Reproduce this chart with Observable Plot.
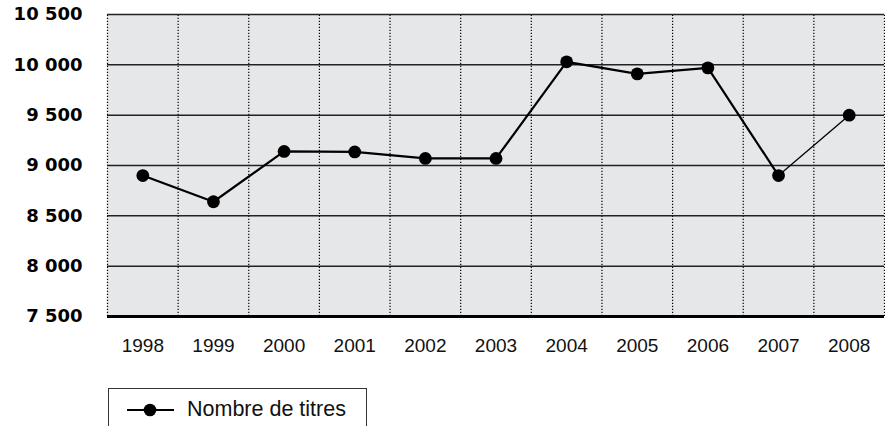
<!DOCTYPE html>
<html>
<head>
<meta charset="utf-8">
<script src="https://cdn.jsdelivr.net/npm/d3@7"></script>
<script src="https://cdn.jsdelivr.net/npm/@observablehq/plot@0.6"></script>
<style>
  html, body { margin: 0; padding: 0; background: #fff; }
  body { width: 885px; height: 426px; position: relative; overflow: hidden; font-family: "Liberation Sans", Arial, sans-serif; }
  #legend { position: absolute; left: 108px; top: 388px; width: 259px; height: 60px; border: 1.5px solid #333; box-sizing: border-box; background: #fff; }
  #legend svg { position: absolute; left: 17px; top: 13px; }
  #legend span { position: absolute; left: 78px; top: 8px; font-size: 21.5px; color: #111; white-space: nowrap; }
  g[aria-label="y-axis tick label"] { font-family: "DejaVu Sans", sans-serif !important; font-weight: bold !important; font-size: 18px !important; }
  g[aria-label="x-axis tick label"] { font-family: "Liberation Sans", Arial, sans-serif !important; font-size: 19px !important; }
</style>
</head>
<body>
<div id="chart"></div>
<div id="legend"><svg width="50" height="16"><line x1="1" y1="8" x2="48" y2="8" stroke="#000" stroke-width="2"/><circle cx="24" cy="8" r="6.3" fill="#000"/></svg><span>Nombre de titres</span></div>
<script>
const years = [1998, 1999, 2000, 2001, 2002, 2003, 2004, 2005, 2006, 2007, 2008];
const titres = [8900, 8640, 9140, 9135, 9070, 9070, 10030, 9910, 9970, 8900, 9500];
const yTicks = [7500, 8000, 8500, 9000, 9500, 10000, 10500];
const seriesName = "Nombre de titres";

const data = years.map((y, i) => ({year: y, value: titres[i]}));
const boundaries = years.map(y => y - 0.5).concat([years[years.length - 1] + 0.5]);
const fmt = v => { const s = String(v); return s.length > 3 ? s.slice(0, s.length - 3) + " " + s.slice(-3) : s; };

const chart = Plot.plot({
  width: 885,
  height: 380,
  marginLeft: 107,
  marginRight: 1,
  marginTop: 14,
  marginBottom: 64,
  style: {fontFamily: "'Liberation Sans', Arial, sans-serif", background: "transparent"},
  x: {domain: [years[0] - 0.5, years[years.length - 1] + 0.5]},
  y: {domain: [7500, 10500]},
  marks: [
    Plot.rect([0], {x1: boundaries[0], x2: boundaries[boundaries.length - 1], y1: 7500, y2: 10500, fill: "#e6e7e9"}),
    Plot.ruleX(boundaries, {y1: 7500, y2: 10500, stroke: "#000", strokeWidth: 1.2, strokeDasharray: "1.2,1.8"}),
    Plot.ruleY(yTicks.filter(t => t !== 7500), {stroke: "#222", strokeWidth: 1.5}),
    Plot.ruleY([7500], {stroke: "#000", strokeWidth: 3}),
    Plot.line(data.filter(d => d.year <= 2007), {x: "year", y: "value", stroke: "#000", strokeWidth: 2.2}),
    Plot.line(data.filter(d => d.year >= 2007), {x: "year", y: "value", stroke: "#000", strokeWidth: 1.3}),
    Plot.dot(data, {x: "year", y: "value", r: 6.4, fill: "#000", stroke: null}),
    Plot.axisY({ticks: yTicks, tickSize: 0, tickPadding: 25, tickFormat: fmt, fontSize: 18, fontWeight: "bold", fill: "#000", label: null}),
    Plot.axisX({ticks: years, tickSize: 0, tickPadding: 22, tickFormat: d => String(d), fontSize: 19, fill: "#111", label: null})
  ]
});
document.getElementById("chart").appendChild(chart);
</script>
</body>
</html>
